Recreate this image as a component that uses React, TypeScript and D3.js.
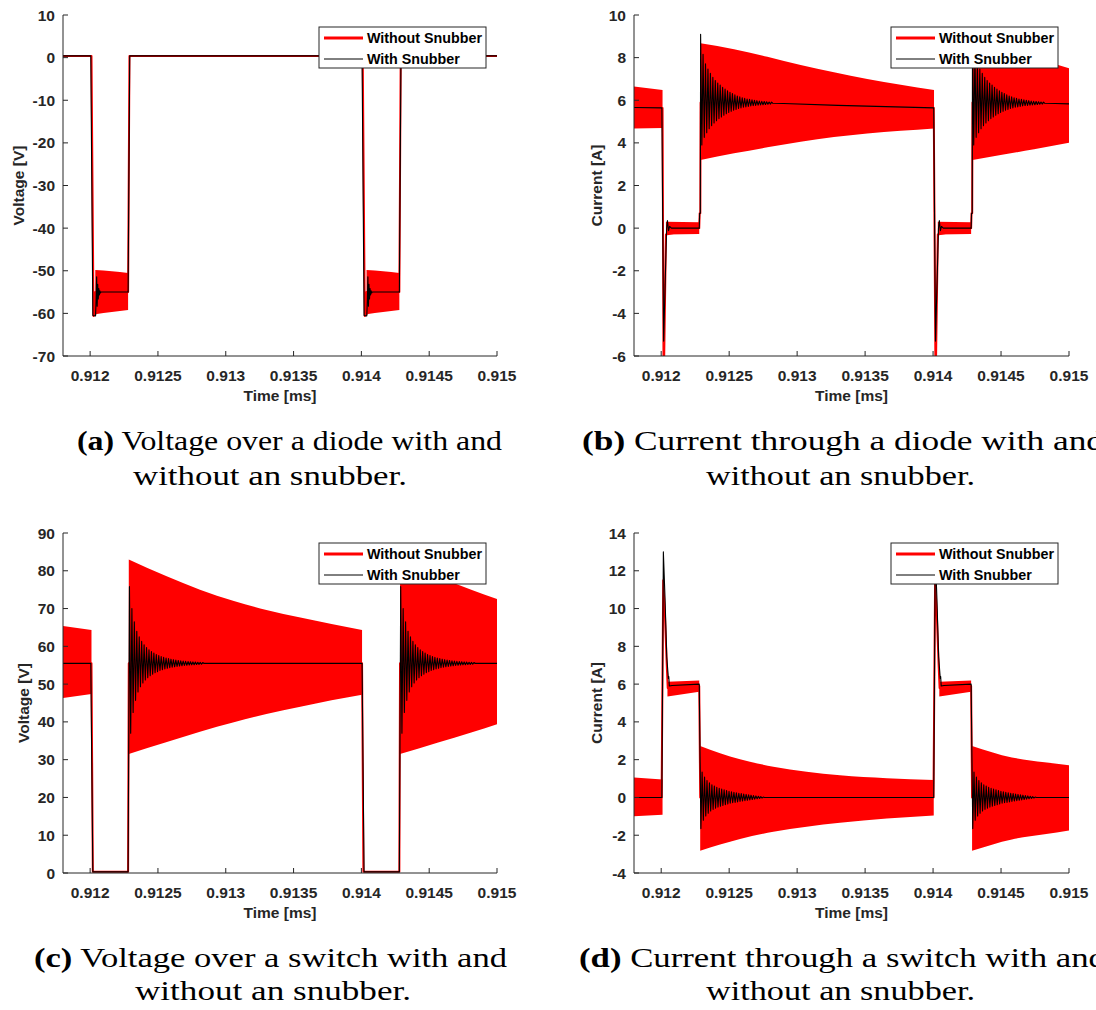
import React from "react";
import * as d3 from "d3";

type P = [number, number];
type B = [number, number, number];

// ---------- shared axis data ----------
const timeDomain: [number, number] = [0.9118, 0.915];
const timeTicks = [0.912, 0.9125, 0.913, 0.9135, 0.914, 0.9145, 0.915];
const timeTickLabels = ["0.912", "0.9125", "0.913", "0.9135", "0.914", "0.9145", "0.915"];
const timeLabel = "Time [ms]";
const seriesNames = ["Without Snubber", "With Snubber"];
const seriesColors = ["#ff0000", "#000000"];

// ---------- (a) diode voltage ----------
const aTicks = [10, 0, -10, -20, -30, -40, -50, -60, -70];
const aBlackHead: P[] = [[0.9118, 0.4], [0.912005, 0.4], [0.91202, -60.5], [0.91204, -60.6]];
const aRingPeaks = [-57, -51.4, -58.3, -53.2, -56.6, -54.2, -55.7, -54.7, -55.2, -55];
const aBlackMid: P[] = [[0.91228, -55], [0.912292, 0.4], [0.914005, 0.4], [0.91402, -60.5], [0.91404, -60.6]];
const aBlackTail: P[] = [[0.91428, -55], [0.914292, 0.4], [0.915, 0.4]];
const aRed: P[] = [[0.9118, 0.4], [0.91201, 0.4], [0.912025, -60.6], [0.912038, -60.2], [0.912038, -55], [0.91228, -55], [0.91229, 0.4],
  [0.91401, 0.4], [0.914025, -60.6], [0.914038, -60.2], [0.914038, -55], [0.91428, -55], [0.91429, 0.4], [0.915, 0.4]];
const aBand1: B[] = [[0.912038, -60.2, -49.8], [0.91216, -59.7, -50.1], [0.91228, -59.2, -50.5]];
const aBand2: B[] = [[0.914038, -60.2, -49.8], [0.91416, -59.7, -50.1], [0.91428, -59.2, -50.5]];

// ---------- (b) diode current ----------
const bTicks = [10, 8, 6, 4, 2, 0, -2, -4, -6];
const bBlackHead: P[] = [[0.9118, 5.66], [0.912005, 5.64], [0.912018, -5.3], [0.91204, 0], [0.912046, 0.35], [0.912054, -0.12],
  [0.912062, 0.08], [0.912075, 0], [0.91228, 0], [0.912283, 0.7], [0.912288, 0.7]];
const bRingPeaks = [9.1, 3.9, 8.16, 4.26, 7.71, 4.48, 7.46, 4.66, 7.26, 4.81, 7.08, 4.93, 6.93, 5.04, 6.81, 5.14, 6.71, 5.22,
  6.61, 5.3, 6.52, 5.37, 6.44, 5.43, 6.37, 5.48, 6.31, 5.53, 6.25, 5.57, 6.2, 5.61, 6.16, 5.64, 6.12, 5.67, 6.09, 5.69, 6.06,
  5.71, 6.04, 5.73, 6.02, 5.75, 6.0, 5.76, 5.98, 5.77, 5.96, 5.78, 5.95, 5.79, 5.94, 5.8, 5.93, 5.81, 5.92, 5.82, 5.91, 5.86];
const bBlackMid: P[] = [[0.9129, 5.85], [0.9133, 5.76], [0.914005, 5.64], [0.914018, -5.3], [0.91404, 0], [0.914046, 0.35],
  [0.914054, -0.12], [0.914062, 0.08], [0.914075, 0], [0.91428, 0], [0.914283, 0.7], [0.914288, 0.7]];
const bBlackTail: P[] = [[0.9149, 5.85], [0.915, 5.83]];
const bRed: P[] = [[0.9118, 5.66], [0.91201, 5.64], [0.912017, -6.1], [0.912022, -6.1], [0.912035, -0.3], [0.91228, 0],
  [0.912283, 0.7], [0.912288, 0.7], [0.91229, 5.9], [0.914005, 5.65], [0.914017, -6.1], [0.914022, -6.1], [0.914035, -0.3],
  [0.91428, 0], [0.914283, 0.7], [0.914288, 0.7], [0.91429, 5.9], [0.915, 5.85]];
const bBandPre: B[] = [[0.9118, 4.68, 6.64], [0.91201, 4.7, 6.48]];
const bBandOff1: B[] = [[0.912035, -0.3, 0.3], [0.91228, -0.28, 0.28]];
const bBandMain1: B[] = [[0.91229, 3.2, 8.67], [0.912536, 3.51, 8.39], [0.912781, 3.79, 8.04], [0.913026, 4.05, 7.65],
  [0.913271, 4.27, 7.31], [0.913516, 4.44, 7.0], [0.913762, 4.57, 6.73], [0.914007, 4.68, 6.48]];
const bBandOff2: B[] = [[0.914035, -0.3, 0.3], [0.91428, -0.28, 0.28]];
const bBandMain2: B[] = [[0.91429, 3.2, 8.67], [0.914497, 3.43, 8.4], [0.914743, 3.7, 8.0], [0.915, 4.01, 7.5]];

// ---------- (c) switch voltage ----------
const cTicks = [90, 80, 70, 60, 50, 40, 30, 20, 10, 0];
const cBlackHead: P[] = [[0.9118, 55.5], [0.912005, 55.5], [0.91202, 0.3], [0.91228, 0.3]];
const cRingPeaks = [75.8, 37, 70, 42.5, 66.5, 45.7, 64, 47.9, 62.5, 49.3, 61.3, 50.3, 60.4, 51.1, 59.7, 51.7, 59.1, 52.2, 58.6,
  52.6, 58.2, 53.0, 57.85, 53.3, 57.55, 53.6, 57.3, 53.8, 57.1, 54.0, 56.9, 54.18, 56.75, 54.33, 56.6, 54.47, 56.47, 54.58,
  56.36, 54.69, 56.26, 54.78, 56.17, 54.86, 56.1, 54.94, 56.03, 55.0, 55.97, 55.06, 55.92, 55.11, 55.87, 55.15, 55.83, 55.19,
  55.79, 55.23, 55.75, 55.27, 55.7, 55.5];
const cBlackMid: P[] = [[0.9129, 55.5], [0.914005, 55.5], [0.91402, 0.3], [0.91428, 0.3]];
const cBlackTail: P[] = [[0.9149, 55.5], [0.915, 55.5]];
const cRed: P[] = [[0.9118, 55.5], [0.91201, 55.5], [0.91202, 0.3], [0.91228, 0.3], [0.912285, 55.5], [0.914005, 55.5],
  [0.914015, 0.3], [0.91428, 0.3], [0.914285, 55.5], [0.915, 55.5]];
const cBandPre: B[] = [[0.9118, 46.3, 65.4], [0.91201, 47.4, 64.3]];
const cBandMain1: B[] = [[0.912285, 31.5, 83], [0.91256, 34.6, 78.6], [0.91281, 37.4, 75.0], [0.91306, 39.9, 72.0],
  [0.9133, 42.1, 69.6], [0.91355, 44.0, 67.6], [0.91378, 45.7, 65.9], [0.914005, 47.2, 64.3]];
const cBandMain2: B[] = [[0.914285, 31.5, 83], [0.91456, 34.5, 78.5], [0.91481, 37.2, 75], [0.915, 39.4, 72.5]];

// ---------- (d) switch current ----------
const dTicks = [14, 12, 10, 8, 6, 4, 2, 0, -2, -4];
const dBlackHead: P[] = [[0.9118, 0], [0.912005, 0], [0.912016, 13.0], [0.912028, 10.6], [0.912041, 7.45], [0.912053, 6.3],
  [0.912056, 6.4], [0.91206, 5.9], [0.91208, 5.93], [0.91228, 6.0]];
const dRingPeaks = [-1.65, 1.35, -1.2, 1.08, -0.98, 0.9, -0.83, 0.77, -0.72, 0.67, -0.63, 0.6, -0.57, 0.54, -0.51, 0.48,
  -0.46, 0.44, -0.42, 0.4, -0.38, 0.36, -0.34, 0.32, -0.31, 0.3, -0.28, 0.27, -0.26, 0.25, -0.24, 0.22, -0.21, 0.2, -0.19,
  0.18, -0.17, 0.16, -0.15, 0.14, -0.13, 0.12, -0.11, 0.1, -0.09, 0.08, -0.07, 0.06, -0.05, 0.04, -0.03, 0.02, 0];
const dBlackMid: P[] = [[0.9129, 0], [0.914005, 0], [0.914016, 13.0], [0.914028, 10.6], [0.914041, 7.45], [0.914053, 6.3],
  [0.914056, 6.4], [0.91406, 5.9], [0.91408, 5.93], [0.91428, 6.0]];
const dBlackTail: P[] = [[0.9149, 0], [0.915, 0]];
const dRed: P[] = [[0.9118, 0], [0.912003, 0], [0.912015, 11.5], [0.912028, 9.6], [0.912041, 7.0], [0.912048, 5.8],
  [0.91228, 5.9], [0.912287, 0], [0.914003, 0], [0.914015, 11.5], [0.914028, 9.6], [0.914041, 7.0], [0.914048, 5.8],
  [0.91428, 5.9], [0.914287, 0], [0.915, 0]];
const dBandPre: B[] = [[0.9118, -1.0, 1.05], [0.91201, -0.92, 0.95]];
const dBandOn1: B[] = [[0.912046, 5.34, 6.13], [0.91228, 5.6, 6.19]];
const dBandOff1: B[] = [[0.912287, -2.82, 2.73], [0.91258, -2.2, 2.02], [0.912825, -1.82, 1.63], [0.91307, -1.55, 1.36],
  [0.913315, -1.34, 1.17], [0.91366, -1.12, 1.02], [0.914005, -0.95, 0.92]];
const dBandOn2: B[] = [[0.914046, 5.34, 6.13], [0.91428, 5.6, 6.19]];
const dBandOff2: B[] = [[0.914287, -2.82, 2.73], [0.91458, -2.22, 2.12], [0.91482, -1.95, 1.86], [0.915, -1.75, 1.7]];

// ---------- captions ----------
const captionLabels = ["(a)", "(b)", "(c)", "(d)"];
const captionLine1 = [
  "Voltage over a diode with and",
  "Current through a diode with and",
  "Voltage over a switch with and",
  "Current through a switch with and",
];
const captionLine2 = "without an snubber.";

// ringing: alternating extremes, one per half-period
const RING_HALF = 0.000009;
function ring(start: number, half: number, peaks: number[]): P[] {
  return peaks.map((v, i) => [start + i * half, v] as P);
}

const aBlack: P[] = [...aBlackHead, ...ring(0.912044, 0.000004, aRingPeaks), ...aBlackMid,
  ...ring(0.914044, 0.000004, aRingPeaks), ...aBlackTail];
const bBlack: P[] = [...bBlackHead, ...ring(0.91229, RING_HALF, bRingPeaks), ...bBlackMid,
  ...ring(0.91429, RING_HALF, bRingPeaks), ...bBlackTail];
const cBlack: P[] = [...cBlackHead, ...ring(0.91229, RING_HALF, cRingPeaks), ...cBlackMid,
  ...ring(0.91429, RING_HALF, cRingPeaks), ...cBlackTail];
const dBlack: P[] = [...dBlackHead, ...ring(0.912292, RING_HALF, dRingPeaks), ...dBlackMid,
  ...ring(0.914292, RING_HALF, dRingPeaks), ...dBlackTail];

const AX = "#262626";
const SANS = "'Liberation Sans', Arial, Helvetica, sans-serif";
const SERIF = "'Liberation Serif', 'Times New Roman', serif";

type Box = { l: number; r: number; t: number; b: number };

function Panel(props: {
  id: string; box: Box; yDomain: [number, number]; yTicks: number[]; yLabel: string; yLabelX: number;
  red: P[]; bands: B[][]; black: P[]; legendX: number; legendY: number;
}) {
  const { id, box, yDomain, yTicks, yLabel, yLabelX, red, bands, black, legendX, legendY } = props;
  const x = d3.scaleLinear().domain(timeDomain).range([box.l, box.r]);
  const y = d3.scaleLinear().domain(yDomain).range([box.b, box.t]);
  const line = d3.line<P>().x((d) => x(d[0])).y((d) => y(d[1]));
  const area = d3.area<B>().x((d) => x(d[0])).y0((d) => y(d[1])).y1((d) => y(d[2])).curve(d3.curveMonotoneX);
  const fs = 15.5;
  return (
    <g>
      <defs>
        <clipPath id={id}>
          <rect x={box.l} y={box.t} width={box.r - box.l} height={box.b - box.t} />
        </clipPath>
      </defs>
      <g clipPath={`url(#${id})`}>
        {bands.map((bd, i) => (
          <path key={i} d={area(bd) || ""} fill={seriesColors[0]} stroke="none" />
        ))}
        <path d={line(red) || ""} fill="none" stroke={seriesColors[0]} strokeWidth={2} strokeLinejoin="round" />
        <path d={line(black) || ""} fill="none" stroke={seriesColors[1]} strokeWidth={1.1} strokeLinejoin="round" />
      </g>
      <line x1={box.l} x2={box.l} y1={box.t} y2={box.b} stroke={AX} strokeWidth={1} />
      <line x1={box.l} x2={box.r} y1={box.b} y2={box.b} stroke={AX} strokeWidth={1} />
      {yTicks.map((v) => (
        <g key={"y" + v}>
          <line x1={box.l} x2={box.l + 5} y1={y(v)} y2={y(v)} stroke={AX} />
          <text x={box.l - 8} y={y(v) + 5.5} textAnchor="end" fontFamily={SANS} fontWeight="bold" fontSize={fs} fill={AX}>
            {String(v)}
          </text>
        </g>
      ))}
      {timeTicks.map((v, i) => (
        <g key={"x" + i}>
          <line x1={x(v)} x2={x(v)} y1={box.b} y2={box.b - 5} stroke={AX} />
          <text x={x(v)} y={box.b + 24.5} textAnchor="middle" fontFamily={SANS} fontWeight="bold" fontSize={fs} fill={AX}>
            {timeTickLabels[i]}
          </text>
        </g>
      ))}
      <text x={(box.l + box.r) / 2} y={box.b + 44.5} textAnchor="middle" fontFamily={SANS} fontWeight="bold" fontSize={fs} fill={AX}>
        {timeLabel}
      </text>
      <text transform={`translate(${yLabelX},${(box.t + box.b) / 2}) rotate(-90)`} textAnchor="middle" fontFamily={SANS}
        fontWeight="bold" fontSize={fs} fill={AX}>
        {yLabel}
      </text>
      <g>
        <rect x={legendX} y={legendY} width={167} height={41} fill="#fff" stroke={AX} strokeWidth={1} />
        {seriesNames.map((n, i) => (
          <g key={n}>
            <line x1={legendX + 5} x2={legendX + 44} y1={legendY + 11 + i * 21} y2={legendY + 11 + i * 21}
              stroke={seriesColors[i]} strokeWidth={i === 0 ? 3 : 1} />
            <text x={legendX + 48} y={legendY + 16 + i * 21} fontFamily={SANS} fontWeight="bold" fontSize={14.3} fill="#000">
              {n}
            </text>
          </g>
        ))}
      </g>
    </g>
  );
}

function Caption(props: { x1: number; len1: number; y1: number; x2: number; len2: number; y2: number; idx: number }) {
  const { x1, len1, y1, x2, len2, y2, idx } = props;
  return (
    <g fontFamily={SERIF} fontSize={27} fill="#000">
      <text x={x1} y={y1} textLength={len1} lengthAdjust="spacingAndGlyphs">
        <tspan fontWeight="bold">{captionLabels[idx]}</tspan>
        {" " + captionLine1[idx]}
      </text>
      <text x={x2} y={y2} textLength={len2} lengthAdjust="spacingAndGlyphs">
        {captionLine2}
      </text>
    </g>
  );
}

export default function App() {
  const top: Box = { l: 63, r: 497, t: 15, b: 356 };
  const topR: Box = { l: 634, r: 1069, t: 15, b: 356 };
  const bot: Box = { l: 63, r: 497, t: 533, b: 873 };
  const botR: Box = { l: 634, r: 1069, t: 533, b: 873 };
  return (
    <svg width={1096} height={1010} viewBox="0 0 1096 1010"
      style={{ position: "absolute", left: 0, top: 0, background: "#fff" }}>
      <rect x={0} y={0} width={1096} height={1010} fill="#fff" />
      <Panel id="ca" box={top} yDomain={[-70, 10]} yTicks={aTicks} yLabel="Voltage [V]" yLabelX={24}
        red={aRed} bands={[aBand1, aBand2]} black={aBlack} legendX={319} legendY={27} />
      <Panel id="cb" box={topR} yDomain={[-6, 10]} yTicks={bTicks} yLabel="Current [A]" yLabelX={602}
        red={bRed} bands={[bBandPre, bBandOff1, bBandMain1, bBandOff2, bBandMain2]} black={bBlack} legendX={891} legendY={27} />
      <Panel id="cc" box={bot} yDomain={[0, 90]} yTicks={cTicks} yLabel="Voltage [V]" yLabelX={29}
        red={cRed} bands={[cBandPre, cBandMain1, cBandMain2]} black={cBlack} legendX={319} legendY={543} />
      <Panel id="cd" box={botR} yDomain={[-4, 14]} yTicks={dTicks} yLabel="Current [A]" yLabelX={602}
        red={dRed} bands={[dBandPre, dBandOn1, dBandOff1, dBandOn2, dBandOff2]} black={dBlack} legendX={891} legendY={543} />
      <Caption idx={0} x1={77} len1={425} y1={450} x2={133} len2={274} y2={485} />
      <Caption idx={1} x1={582} len1={522} y1={450} x2={706} len2={269} y2={485} />
      <Caption idx={2} x1={34} len1={473} y1={967} x2={135} len2={276} y2={1000} />
      <Caption idx={3} x1={579} len1={527} y1={967} x2={706} len2={269} y2={1000} />
    </svg>
  );
}
